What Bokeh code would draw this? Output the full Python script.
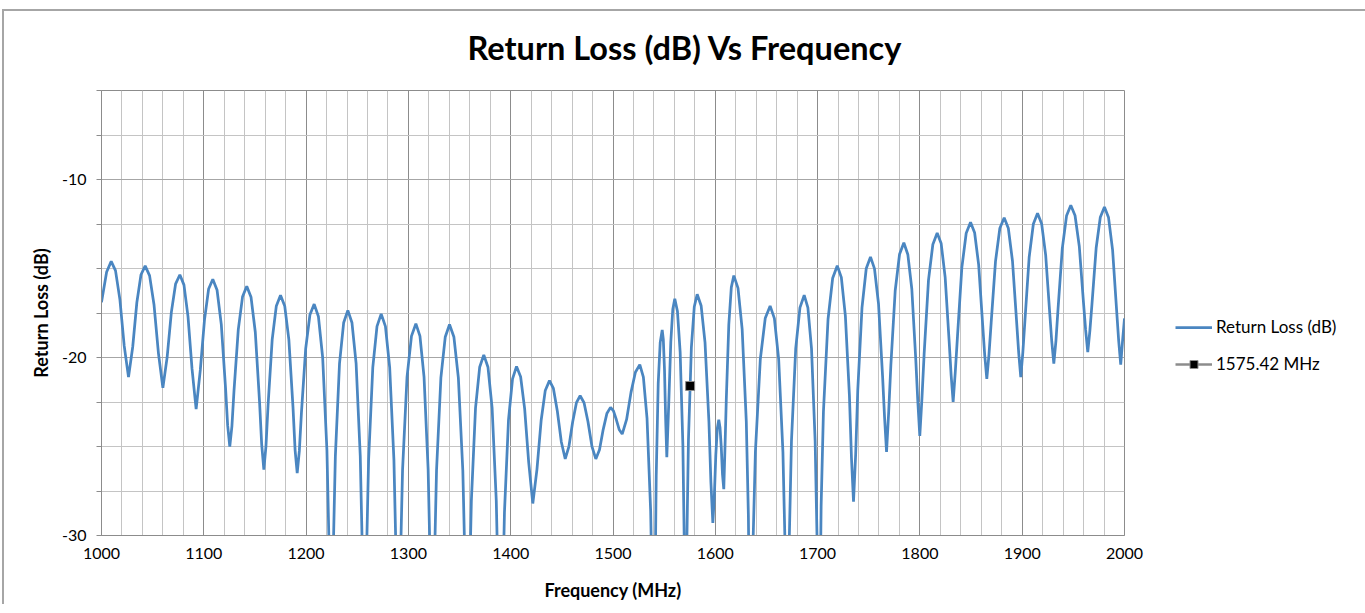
from bokeh.plotting import figure
from bokeh.models import Range1d, FixedTicker, Legend, LegendItem
from bokeh.embed import file_html
from bokeh.resources import INLINE

# ---- data ----
freq_mhz = [
    1000, 1005, 1009.5, 1013.7, 1018.0, 1022.2, 1026.4, 1030.5, 1034.55, 1038.6,
    1042.7, 1047.0, 1051.35, 1055.7, 1060.0, 1064.15, 1068.3, 1072.45, 1076.6, 1080.6,
    1084.55, 1088.5, 1092.5, 1096.6, 1100.65, 1104.7, 1108.8, 1112.95, 1117.1, 1121.25,
    1123.3, 1125.4, 1127.5, 1129.55, 1133.7, 1137.85, 1142.0, 1146.2, 1150.35, 1154.5,
    1156.6, 1158.7, 1160.75, 1162.8, 1166.85, 1170.9, 1175.0, 1179.1, 1183.15, 1187.2,
    1189.25, 1191.3, 1193.4, 1195.45, 1199.6, 1203.75, 1207.9, 1212.05, 1216.2, 1220.35,
    1222.4, 1224.5, 1226.55, 1228.6, 1232.65, 1236.7, 1240.8, 1244.85, 1248.9, 1252.95,
    1254.95, 1257.0, 1259.05, 1261.1, 1265.2, 1269.3, 1273.4, 1277.55, 1281.7, 1285.85,
    1287.9, 1290.0, 1292.15, 1294.3, 1298.65, 1303.0, 1307.3, 1311.3, 1315.3, 1319.3,
    1321.3, 1323.3, 1325.4, 1327.5, 1331.75, 1336.0, 1340.2, 1344.5, 1348.85, 1353.2,
    1355.35, 1357.5, 1359.5, 1361.55, 1365.6, 1369.65, 1373.7, 1377.8, 1381.85, 1385.9,
    1387.95, 1390.0, 1391.95, 1393.9, 1397.85, 1401.8, 1405.7, 1409.7, 1413.65, 1417.6,
    1421.6, 1425.7, 1429.75, 1433.8, 1437.9, 1441.75, 1445.6, 1449.45, 1453.3, 1456.95,
    1460.6, 1464.25, 1467.9, 1471.7, 1475.55, 1479.4, 1483.2, 1486.8, 1490.4, 1494.0,
    1497.6, 1500.45, 1503.3, 1506.15, 1509.0, 1513.3, 1517.6, 1521.9, 1526.2, 1529.7,
    1533.25, 1536.8, 1538.55, 1540.3, 1541.3, 1542.25, 1544.2, 1546.15, 1548.1, 1549.2,
    1550.35, 1551.45, 1552.6, 1554.55, 1556.5, 1558.45, 1560.4, 1563.0, 1565.65, 1568.3,
    1569.6, 1570.9, 1572.3, 1573.75, 1576.6, 1579.45, 1582.3, 1586.15, 1589.95, 1593.8,
    1595.7, 1597.6, 1599.05, 1600.5, 1601.95, 1603.4, 1604.6, 1605.85, 1607.05, 1608.3,
    1609.5, 1610.75, 1613.2, 1615.65, 1618.1, 1622.2, 1626.25, 1630.3, 1632.35, 1634.4,
    1636.8, 1639.2, 1644.0, 1648.8, 1653.6, 1657.75, 1661.95, 1666.1, 1668.2, 1670.3,
    1672.4, 1674.45, 1678.6, 1682.75, 1686.9, 1690.5, 1694.05, 1697.6, 1699.4, 1701.2,
    1703.45, 1705.7, 1710.2, 1714.7, 1719.2, 1723.2, 1727.15, 1731.1, 1733.1, 1735.1,
    1737.2, 1739.25, 1743.4, 1747.55, 1751.7, 1755.6, 1759.55, 1763.5, 1765.45, 1767.4,
    1769.5, 1771.6, 1775.85, 1780.1, 1784.3, 1788.2, 1792.1, 1796.0, 1797.95, 1799.9,
    1802.0, 1804.15, 1808.4, 1812.65, 1816.9, 1820.8, 1824.7, 1828.6, 1830.55, 1832.5,
    1834.6, 1836.75, 1841.0, 1845.25, 1849.5, 1853.5, 1857.45, 1861.4, 1863.4, 1865.4,
    1867.5, 1869.65, 1873.9, 1878.15, 1882.4, 1886.45, 1890.5, 1894.55, 1896.6, 1898.6,
    1900.65, 1902.7, 1906.8, 1910.9, 1915.0, 1919.0, 1922.95, 1926.9, 1928.9, 1930.9,
    1933.0, 1935.05, 1939.2, 1943.35, 1947.5, 1951.65, 1955.8, 1959.95, 1962.0, 1964.1,
    1966.15, 1968.2, 1972.3, 1976.35, 1980.4, 1984.4, 1988.35, 1992.3, 1994.3, 1996.3,
    1998.2, 2000.0,
]
return_loss_db = [
    -16.9, -15.2, -14.6, -15.12, -16.75, -19.35, -21.1, -19.41, -16.91, -15.35,
    -14.85, -15.40, -17.04, -19.78, -21.7, -19.99, -17.45, -15.86, -15.35, -15.92,
    -17.69, -20.64, -22.9, -20.7, -17.9, -16.15, -15.6, -16.21, -18.14, -21.71,
    -23.8, -25.0, -23.85, -21.85, -18.43, -16.59, -16.0, -16.62, -18.58, -22.49,
    -24.9, -26.3, -25.0, -22.7, -19.0, -17.1, -16.5, -17.1, -19.0, -22.8,
    -25.2, -26.5, -25.25, -23.1, -19.5, -17.6, -17.0, -17.7, -20.0, -25.2,
    -30.5, -40, -30.85, -25.55, -20.35, -18.05, -17.35, -18.05, -20.35, -25.55,
    -30.85, -40, -31.05, -25.75, -20.55, -18.25, -17.55, -18.25, -20.55, -25.75,
    -31.05, -40, -31.6, -26.3, -21.1, -18.8, -18.1, -18.8, -21.1, -26.3,
    -31.6, -40, -31.65, -26.35, -21.15, -18.85, -18.15, -18.85, -21.15, -26.35,
    -31.65, -40, -33.35, -28.05, -22.85, -20.55, -19.85, -20.55, -22.85, -28.05,
    -33.35, -40, -34.0, -28.7, -23.5, -21.2, -20.5, -21.08, -22.89, -25.89,
    -28.2, -26.27, -23.54, -21.85, -21.3, -21.74, -23.02, -24.73, -25.7, -24.99,
    -23.61, -22.54, -22.15, -22.54, -23.61, -24.99, -25.7, -25.18, -24.05, -23.15,
    -22.8, -23.0, -23.5, -24.06, -24.3, -23.48, -21.96, -20.83, -20.4, -21.1,
    -23.4, -28.6, -33.9, -40, -31.95, -26.65, -21.45, -19.15, -18.45, -19.0,
    -20.7, -23.45, -25.6, -22.5, -19.13, -17.29, -16.7, -17.4, -19.7, -24.9,
    -30.2, -40, -29.95, -24.65, -19.45, -17.15, -16.45, -17.09, -19.15, -23.65,
    -27.0, -29.3, -27.8, -25.47, -23.99, -23.5, -23.93, -25.06, -26.58, -27.4,
    -25.0, -22.36, -18.16, -16.06, -15.4, -16.1, -18.4, -23.6, -28.9, -40,
    -30.6, -25.3, -20.1, -17.8, -17.1, -17.8, -20.1, -25.3, -30.6, -40,
    -30.0, -24.7, -19.5, -17.2, -16.5, -17.2, -19.5, -24.7, -30.0, -40,
    -28.35, -23.05, -17.85, -15.55, -14.85, -15.5, -17.66, -22.13, -25.63, -28.1,
    -25.45, -21.85, -17.2, -15.0, -14.35, -15.01, -16.98, -21.03, -23.35, -25.3,
    -23.05, -20.45, -16.25, -14.2, -13.55, -14.21, -16.15, -20.15, -22.45, -24.4,
    -22.3, -19.8, -15.65, -13.65, -13.0, -13.6, -15.5, -19.1, -21.0, -22.5,
    -20.8, -18.8, -14.95, -13.02, -12.4, -12.99, -14.8, -18.2, -19.9, -21.2,
    -19.85, -18.05, -14.6, -12.74, -12.15, -12.74, -14.58, -18.0, -19.75, -21.1,
    -19.7, -17.9, -14.37, -12.5, -11.9, -12.48, -14.25, -17.5, -19.1, -20.35,
    -19.05, -17.25, -13.87, -12.04, -11.45, -12.02, -13.75, -16.95, -18.45, -19.7,
    -18.5, -17.0, -13.85, -12.12, -11.55, -12.14, -13.95, -17.35, -19.05, -20.4,
    -19.0, -17.8,
]
marker_freq = [1575.42]
marker_rl = [-21.6]
series_names = ["Return Loss (dB)", "1575.42 MHz"]
x_tick_values = [1000, 1100, 1200, 1300, 1400, 1500, 1600, 1700, 1800, 1900, 2000]
y_tick_values = [-30, -20, -10]
y_tick_labels = ["-30", "-20", "-10"]

FONT = "Lato"
BLUE = "#4a86c1"
GRID_MAJOR = "#8c8c8c"
GRID_MINOR = "#c4c4c4"
FRAME_GRAY = "#a6a6a6"

p = figure(
    frame_width=1023, frame_height=445,
    min_border_left=101, min_border_right=240, min_border_top=90, min_border_bottom=73,
    x_range=Range1d(1000, 2000), y_range=Range1d(-30, -5),
    output_backend="svg", toolbar_location=None,
    title="Return Loss (dB) Vs Frequency",
)
# outer chart border (left, top, right) drawn by the host element behind a transparent border area
p.styles = {
    "background-color": "white",
    "box-shadow": ("inset 0 -4px 0 0 white, inset 0 9px 0 0 white, inset 0 0 0 2px white, "
                   f"inset 0 11px 0 0 {FRAME_GRAY}, inset 0 0 0 4px {FRAME_GRAY}"),
}
p.background_fill_color = "white"
p.border_fill_alpha = 0
p.outline_line_color = GRID_MAJOR
p.outline_line_width = 1

p.title.align = "left"
p.title.offset = 366
p.title.text_font = FONT
p.title.text_font_size = "32.5px"
p.title.text_font_style = "bold"
p.title.text_color = "black"
p.title.standoff = 47

x_minor = [v for v in range(1000, 2001, 20) if v % 100 != 0]
y_minor = [-27.5, -25, -22.5, -17.5, -15, -12.5, -7.5, -5]
p.xaxis.ticker = FixedTicker(ticks=x_tick_values, minor_ticks=x_minor)
p.yaxis.ticker = FixedTicker(ticks=y_tick_values, minor_ticks=y_minor)
p.yaxis.major_label_overrides = dict(zip(y_tick_values, y_tick_labels))

p.xgrid.grid_line_color = GRID_MAJOR
p.xgrid.minor_grid_line_color = GRID_MINOR
p.ygrid.grid_line_color = FRAME_GRAY
p.ygrid.minor_grid_line_color = GRID_MINOR

for ax in (p.xaxis[0], p.yaxis[0]):
    ax.axis_line_color = GRID_MAJOR
    ax.major_tick_line_color = GRID_MAJOR
    ax.minor_tick_line_color = GRID_MAJOR
    ax.major_label_text_font = FONT
    ax.major_label_text_font_size = "16px"
    ax.major_label_text_color = "black"
    ax.axis_label_text_font = FONT
    ax.axis_label_text_font_size = "18px"
    ax.axis_label_text_font_style = "bold"
    ax.axis_label_text_color = "black"

p.xaxis.major_tick_out = 0
p.xaxis.major_tick_in = 0
p.xaxis.minor_tick_out = 0
p.xaxis.minor_tick_in = 0
p.xaxis.major_label_standoff = 12
p.xaxis.axis_label = "Frequency (MHz)"
p.xaxis.axis_label_standoff = 17

p.yaxis.major_tick_out = 5
p.yaxis.major_tick_in = 0
p.yaxis.minor_tick_out = 5
p.yaxis.minor_tick_in = 0
p.yaxis.major_label_standoff = 10
p.yaxis.axis_label = "Return Loss (dB)"
p.yaxis.axis_label_standoff = 7

r_main = p.line(freq_mhz, return_loss_db, line_color=BLUE, line_width=2.75)
r_mline = p.line(marker_freq, marker_rl, line_color="#8c8c8c", line_width=2.5)
r_mark = p.scatter(marker_freq, marker_rl, marker="square", size=9,
                   fill_color="black", line_color="#8c8c8c", line_width=1)

legend = Legend(
    items=[LegendItem(label=series_names[0], renderers=[r_main]),
           LegendItem(label=series_names[1], renderers=[r_mline, r_mark])],
    location=(51, 161),
    padding=0, margin=0, spacing=16,
    glyph_width=37, glyph_height=20, label_height=20, label_standoff=4,
    label_text_font=FONT, label_text_font_size="17px", label_text_color="black",
    border_line_alpha=0, background_fill_alpha=0,
)
p.add_layout(legend, "right")

open("out.html", "w").write(file_html(p, INLINE))
